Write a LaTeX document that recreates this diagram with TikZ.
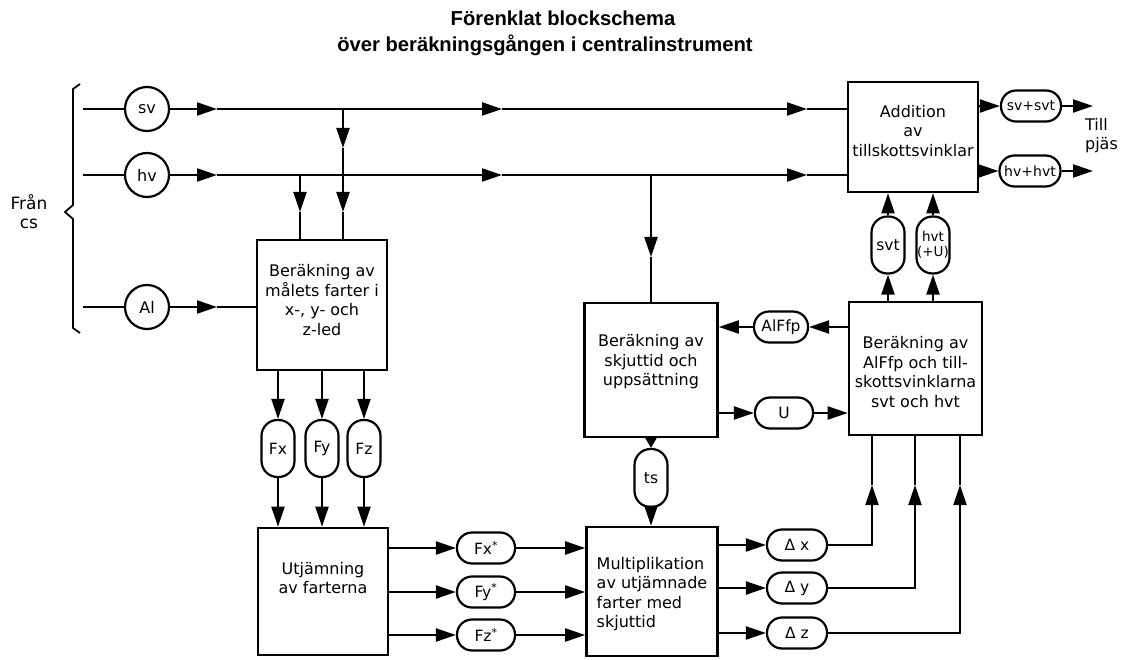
\documentclass[tikz,border=0pt]{standalone}
\usepackage{fontspec}
\setmainfont{DejaVu Sans}
\newfontfamily\titlefont{Liberation Sans}
\usetikzlibrary{arrows.meta}
\begin{document}
\begin{tikzpicture}[x=1pt,y=-1pt,
  line width=2.2pt,
  box/.style={draw, line width=2.6pt, inner sep=0pt},
  txt/.style={font=\fontsize{16}{19.5}\selectfont, align=center, inner sep=0pt},
  circ/.style={draw, circle, minimum size=44pt, inner sep=0pt, font=\fontsize{16}{18}\selectfont},
  hpill/.style={draw, rounded corners=15pt, minimum height=31pt, minimum width=58pt, inner sep=0pt, font=\fontsize{15.5}{17}\selectfont},
  vpill/.style={draw, rounded corners=16pt, minimum width=33pt, minimum height=57pt, inner sep=0pt, align=center, font=\fontsize{15.5}{17}\selectfont},
  tip/.style={-{Triangle[length=20pt,width=13pt]}},
  stip/.style={-{Triangle[length=10pt,width=11pt]}},
  titl/.style={font=\titlefont\bfseries\fontsize{20.2}{24}\selectfont, inner sep=0pt}
]
\useasboundingbox (0,0) rectangle (1131,660);

% title
\node[titl] (t1) at (563,18) {Förenklat blockschema};
\node[titl] (t2) at (545,45) {över beräkningsgången i centralinstrument};

% brace and label
\draw[line width=1.8pt, line join=round] (80,84) -- (73,89) -- (73,205) -- (65,212) -- (73,219) -- (73,328) -- (80,333);
\node[txt, font=\fontsize{17}{19}\selectfont] (fran) at (29,212) {Från\\cs};

% input circles
\node[circ] (sv) at (147,109) {sv};
\node[circ] (hv) at (147,175) {hv};
\node[circ] (al) at (147,307) {Al};
\coordinate (in1) at (83,109);
\coordinate (in2) at (83,175);
\coordinate (in3) at (83,307);
\draw (in1) -- (sv.west);
\draw (in2) -- (hv.west);
\draw (in3) -- (al.west);

% boxes
\node[box, minimum width=130pt, minimum height=130pt] (b1) at (322,305) {};
\node[box, minimum width=130pt, minimum height=127pt] (b2) at (323,591.5) {};
\node[box, minimum width=133pt, minimum height=134pt] (b3) at (651,370) {};
\node[box, minimum width=131pt, minimum height=129pt] (b5) at (652,591.5) {};
\node[box, minimum width=133pt, minimum height=133pt] (b4) at (915.5,368.5) {};
\node[box, minimum width=130pt, minimum height=110pt] (ba) at (913,137) {};

% box texts
\node[txt] (b1t) at (322,300) {Beräkning av\\målets farter i\\x-, y- och\\z-led};
\node[txt] (b2t) at (323,578) {Utjämning\\av farterna};
\node[txt] (b3t) at (651,362) {Beräkning av\\skjuttid och\\uppsättning};
\node[txt, align=left] (b5t) at (652,594) {Multiplikation\\av utjämnade\\farter med\\skjuttid};
\node[txt] (b4t) at (915.5,372) {Beräkning av\\AlFfp och till-\\skottsvinklarna\\svt och hvt};
\node[txt] (bat) at (913,131) {Addition\\av\\tillskottsvinklar};

% sv line
\coordinate (sva1) at (217,109);
\coordinate (sva2) at (502,109);
\coordinate (sva3) at (807,109);
\coordinate (svbr) at (343,109);
\draw[tip] (sv.east) -- (sva1);
\draw[tip] (sva1) -- (sva2);
\draw[tip] (sva2) -- (sva3);
\draw (sva3) -- (sva3 -| ba.west);
\coordinate (svd1) at (343,148);
\coordinate (svd2) at (343,212);
\draw[tip] (svbr) -- (svd1);
\draw[tip] (svd1) -- (svd2);
\draw (svd2) -- (svd2 |- b1.north);

% hv line
\coordinate (hva1) at (217,175);
\coordinate (hva2) at (502,175);
\coordinate (hva3) at (807,175);
\coordinate (hvbr1) at (300,175);
\coordinate (hvbr2) at (651,175);
\draw[tip] (hv.east) -- (hva1);
\draw[tip] (hva1) -- (hva2);
\draw[tip] (hva2) -- (hva3);
\draw (hva3) -- (hva3 -| ba.west);
\coordinate (hvd1) at (300,212);
\draw[tip] (hvbr1) -- (hvd1);
\draw (hvd1) -- (hvd1 |- b1.north);
\coordinate (hvd2) at (651,257);
\draw[tip] (hvbr2) -- (hvd2);
\draw (hvd2) -- (b3.north);

% Al line
\coordinate (ala1) at (217,307);
\draw[tip] (al.east) -- (ala1);
\draw (ala1) -- (ala1 -| b1.west);

% outputs
\node[hpill, minimum width=60pt, font=\fontsize{14}{16}\selectfont] (o1) at (1031,106) {sv+svt};
\node[hpill, minimum width=61pt, font=\fontsize{14}{16}\selectfont] (o2) at (1030,171) {hv+hvt};
\coordinate (o1e) at (1093,106);
\coordinate (o2e) at (1093,171);
\draw[tip] (o1 -| ba.east) -- (o1.west);
\draw[tip] (o1.east) -- (o1e);
\draw[tip] (o2 -| ba.east) -- (o2.west);
\draw[tip] (o2.east) -- (o2e);
\node[txt, align=left, anchor=north west] (till) at (1084,117) {Till\\pjäs};

% svt, hvt
\node[vpill] (svt) at (888,245) {svt};
\node[vpill, font=\fontsize{13.5}{15.5}\selectfont] (hvt) at (933,245) {hvt\\(+U)};
\draw[tip] (svt |- b4.north) -- (svt.south);
\draw[tip] (svt.north) -- (svt |- ba.south);
\draw[tip] (hvt |- b4.north) -- (hvt.south);
\draw[tip] (hvt.north) -- (hvt |- ba.south);

% AlFfp and U
\node[hpill, minimum width=54pt] (alf) at (781,327) {AlFfp};
\draw[tip] (alf -| b4.west) -- (alf.east);
\draw[tip] (alf.west) -- (alf -| b3.east);
\node[hpill] (u) at (784,413) {U};
\draw[tip] (u -| b3.east) -- (u.west);
\draw[tip] (u.east) -- (u -| b4.west);

% ts
\node[vpill, minimum height=58pt] (ts) at (651,478) {ts};
\draw[stip] (b3.south) -- (ts.north);
\draw[tip] (ts.south) -- (ts |- b5.north);

% Fx, Fy, Fz
\node[vpill] (fx) at (278,448.5) {Fx};
\node[vpill] (fy) at (322,448.5) {Fy};
\node[vpill] (fz) at (364,448.5) {Fz};
\foreach \p in {fx,fy,fz} {
  \draw[tip] (\p |- b1.south) -- (\p.north);
  \draw[tip] (\p.south) -- (\p |- b2.north);
}

% Fx*, Fy*, Fz*
\node[hpill] (fxs) at (486,548) {Fx\textsuperscript{*}};
\node[hpill] (fys) at (486,592) {Fy\textsuperscript{*}};
\node[hpill] (fzs) at (486,635) {Fz\textsuperscript{*}};
\foreach \p in {fxs,fys,fzs} {
  \draw[tip] (\p -| b2.east) -- (\p.west);
  \draw[tip] (\p.east) -- (\p -| b5.west);
}

% Delta x, y, z
\node[hpill, minimum width=60pt] (dx) at (797,545) {Δ x};
\node[hpill, minimum width=60pt] (dy) at (797,588) {Δ y};
\node[hpill, minimum width=60pt] (dz) at (797,633) {Δ z};
\coordinate (dxa) at (872,485);
\coordinate (dya) at (915,485);
\coordinate (dza) at (960,485);
\draw[tip] (dx -| b5.east) -- (dx.west);
\draw[tip] (dy -| b5.east) -- (dy.west);
\draw[tip] (dz -| b5.east) -- (dz.west);
\draw[tip] (dx.east) -| (dxa);
\draw[tip] (dy.east) -| (dya);
\draw[tip] (dz.east) -| (dza);
\draw (dxa) -- (dxa |- b4.south);
\draw (dya) -- (dya |- b4.south);
\draw (dza) -- (dza |- b4.south);
\end{tikzpicture}
\end{document}
